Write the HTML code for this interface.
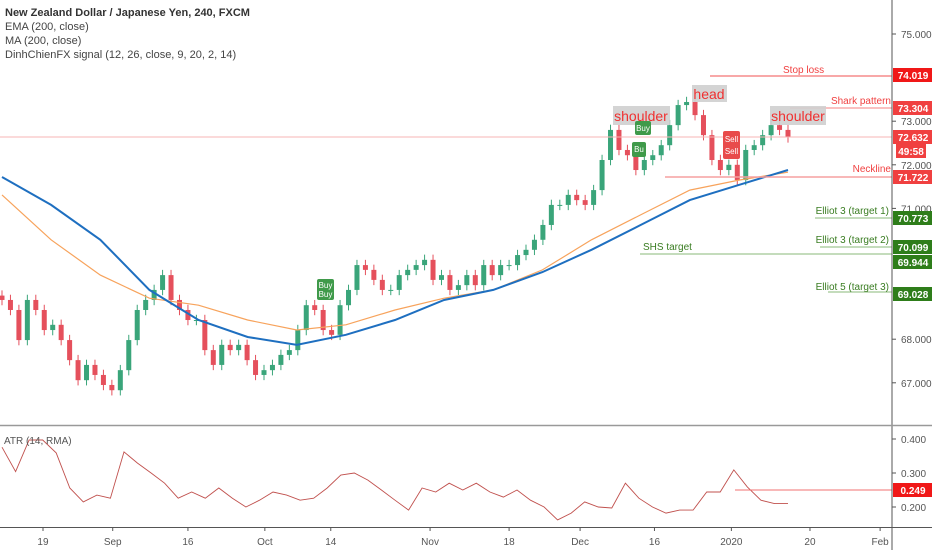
<!DOCTYPE html>
<html><head><meta charset="utf-8"><style>
html,body{margin:0;padding:0;background:#fff;}
svg{display:block;font-family:"Liberation Sans",sans-serif;}
</style></head><body>
<svg id="chart" width="932" height="550" viewBox="0 0 932 550" xmlns="http://www.w3.org/2000/svg">
<rect width="932" height="550" fill="#fff"/>
<g id="grid"></g>
<g id="marks"></g>
<g id="overlay"></g>
<g id="axes"></g>
</svg>
<script>
const closes=[68.90,68.67,67.98,68.90,68.67,68.21,68.33,67.98,67.52,67.06,67.41,67.18,66.95,66.83,67.29,67.98,68.67,68.90,69.13,69.47,68.90,68.67,68.44,68.44,67.75,67.41,67.87,67.75,67.87,67.52,67.18,67.29,67.41,67.64,67.75,68.21,68.78,68.67,68.21,68.10,68.78,69.13,69.70,69.59,69.36,69.13,69.13,69.47,69.59,69.70,69.82,69.36,69.47,69.13,69.24,69.47,69.24,69.70,69.47,69.70,69.70,69.93,70.05,70.28,70.62,71.08,71.08,71.31,71.19,71.08,71.42,72.11,72.80,72.34,72.22,71.88,72.11,72.22,72.45,72.91,73.37,73.44,73.14,72.68,72.11,71.88,72.00,71.65,72.34,72.45,72.68,72.91,72.80,72.63];
const maValues=[71.72,71.08,70.28,69.13,68.44,68.05,67.87,68.10,68.44,68.90,69.13,69.54,70.05,70.62,71.19,71.54,71.88];
const emaValues=[71.31,70.28,69.47,68.94,68.78,68.44,68.21,68.33,68.67,68.94,69.13,69.59,70.28,70.85,71.42,71.65,71.83];
const atrValues=[0.376,0.304,0.397,0.397,0.359,0.256,0.215,0.235,0.226,0.362,0.329,0.300,0.270,0.226,0.244,0.226,0.256,0.226,0.200,0.220,0.244,0.235,0.220,0.226,0.256,0.294,0.300,0.279,0.250,0.220,0.191,0.256,0.244,0.270,0.250,0.270,0.244,0.229,0.250,0.220,0.200,0.162,0.182,0.215,0.200,0.197,0.270,0.226,0.200,0.182,0.191,0.191,0.244,0.244,0.309,0.259,0.220,0.210,0.210];
const priceTicks=[75,73,72,71,68,67];
const atrTicks=[0.4,0.3,0.2];
const dateLabels=["19","Sep","16","Oct","14","Nov","18","Dec","16","2020","20","Feb"];
const dateIdx=[4.85,13.1,22.0,31.1,38.9,50.65,60.0,68.4,77.2,86.3,95.6,103.9];

const NS="http://www.w3.org/2000/svg";
const AX=892, X0=2, XEND=788;
const py=p=>34+(75-p)*43.6;
const ay=v=>439+(0.4-v)*340;
const cx=i=>X0+i*(XEND-X0)/(closes.length-1);
function el(tag,attrs,parent,text){const e=document.createElementNS(NS,tag);for(const k in attrs)e.setAttribute(k,attrs[k]);if(text!==undefined)e.textContent=text;parent.appendChild(e);return e;}
const grid=document.getElementById('grid'),marks=document.getElementById('marks'),ov=document.getElementById('overlay'),axes=document.getElementById('axes');

closes.forEach((c,i)=>{
  const o=i===0?c+0.1:closes[i-1];
  const up=c>=o, col=up?'#3aa57a':'#e5505c';
  const g=el('g',{},marks);
  
  
  const x=cx(i);
  el('line',{x1:x,x2:x,y1:py(Math.max(o,c)+0.12),y2:py(Math.min(o,c)-0.12),stroke:col,'stroke-width':1},g);
  const t=py(Math.max(o,c)),b=py(Math.min(o,c));
  el('rect',{x:x-2.5,y:t,width:5,height:Math.max(1,b-t),fill:col},g);
});
function line(vals,stroke,w,name){
  const n=vals.length;const pts=vals.map((v,i)=>(X0+i*(XEND-X0)/(n-1)).toFixed(1)+','+py(v).toFixed(1)).join(' ');
  const p=el('polyline',{points:pts,fill:'none',stroke:stroke,'stroke-width':w},marks);
  
  
}
line(emaValues,'#f7a35c',1.2,'ema-200-line');
line(maValues,'#1e6fc0',2,'ma-200-line');
{
  const n=atrValues.length;const pts=atrValues.map((v,i)=>(X0+i*(XEND-X0)/(n-1)).toFixed(1)+','+ay(v).toFixed(1)).join(' ');
  const p=el('polyline',{points:pts,fill:'none',stroke:'#c0504d','stroke-width':0.9},marks);
  
  
}
</script>
<script>
const O=document.getElementById('overlay');
O.innerHTML=`
<line x1="0" y1="137" x2="892" y2="137" stroke="#f7b5b5" stroke-width="1"/>
<line x1="710" y1="76" x2="892" y2="76" stroke="#f05050"/>
<text x="783" y="73" font-size="10" fill="#f04040">Stop loss</text>
<line x1="790" y1="108" x2="892" y2="108" stroke="#f58080"/>
<text x="891" y="104" font-size="10" fill="#f04040" text-anchor="end">Shark pattern</text>
<line x1="665" y1="177" x2="892" y2="177" stroke="#f5a0a0" stroke-width="1.5"/>
<text x="891" y="172" font-size="10" fill="#f04040" text-anchor="end">Neckline</text>
<line x1="815" y1="218" x2="892" y2="218" stroke="#8ab878"/>
<text x="889" y="214" font-size="10" fill="#3a7d22" text-anchor="end">Elliot 3 (target 1)</text>
<line x1="820" y1="247" x2="892" y2="247" stroke="#8ab878"/>
<text x="889" y="243" font-size="10" fill="#3a7d22" text-anchor="end">Elliot 3 (target 2)</text>
<line x1="640" y1="254" x2="892" y2="254" stroke="#8ab878"/>
<text x="643" y="250" font-size="10" fill="#3a7d22">SHS target</text>
<line x1="828" y1="292" x2="892" y2="292" stroke="#8ab878"/>
<text x="889" y="290" font-size="10" fill="#3a7d22" text-anchor="end">Elliot 5 (target 3)</text>
<line x1="735" y1="490" x2="892" y2="490" stroke="#f07070"/>
<g><rect x="613" y="106" width="57" height="19" fill="#cfcfcf" opacity="0.9"/><text x="641" y="121" font-size="14" fill="#f03030" text-anchor="middle">shoulder</text></g>
<g><rect x="692" y="85" width="35" height="17" fill="#cfcfcf" opacity="0.9"/><text x="709" y="99" font-size="14" fill="#f03030" text-anchor="middle">head</text></g>
<g><rect x="770" y="106" width="56" height="19" fill="#cfcfcf" opacity="0.9"/><text x="798" y="121" font-size="14" fill="#f03030" text-anchor="middle">shoulder</text></g>
<g><rect x="317" y="279" width="17" height="21" rx="2" fill="#3f9a4a"/><text x="325.5" y="288" font-size="8" fill="#fff" text-anchor="middle">Buy</text><text x="325.5" y="297" font-size="8" fill="#fff" text-anchor="middle">Buy</text></g>
<g><rect x="635" y="121" width="16" height="14" rx="2" fill="#3f9a4a"/><text x="643" y="131" font-size="8" fill="#fff" text-anchor="middle">Buy</text><rect x="632" y="142" width="14" height="15" rx="2" fill="#3f9a4a"/><text x="639" y="152" font-size="8" fill="#fff" text-anchor="middle">Bu</text></g>
<g><rect x="723" y="131" width="17" height="28" rx="2" fill="#e84b4b"/><text x="731.5" y="142" font-size="8" fill="#fff" text-anchor="middle">Sell</text><text x="731.5" y="154" font-size="8" fill="#fff" text-anchor="middle">Sell</text></g>
<text x="5" y="16" font-size="11" fill="#333" font-weight="bold">New Zealand Dollar / Japanese Yen, 240, FXCM</text>
<text x="5" y="30" font-size="11" fill="#444">EMA (200, close)</text>
<text x="5" y="44" font-size="11" fill="#444">MA (200, close)</text>
<text x="5" y="58" font-size="11" fill="#444">DinhChienFX signal (12, 26, close, 9, 20, 2, 14)</text>
<text x="4" y="444" font-size="10" fill="#555">ATR (14, RMA)</text>
`;
const A=document.getElementById('axes');
const mk=(tag,attrs,txt)=>{const e=document.createElementNS("http://www.w3.org/2000/svg",tag);for(const k in attrs)e.setAttribute(k,attrs[k]);if(txt!==undefined)e.textContent=txt;A.appendChild(e);return e;};
const ax=mk('line',{x1:892,y1:0,x2:892,y2:550,stroke:'#555','stroke-width':1});


const d1=mk('line',{x1:0,y1:425.5,x2:932,y2:425.5,stroke:'#999','stroke-width':1.5});


const d2=mk('line',{x1:0,y1:527.5,x2:932,y2:527.5,stroke:'#555','stroke-width':1});


priceTicks.forEach(p=>{
  const y=py(p);
  const tk=mk('line',{x1:892,x2:896,y1:y,y2:y,stroke:'#555'});
  
  
  const t=mk('text',{x:901,y:y+4,'font-size':10,fill:'#555'},p.toFixed(3));
  
  
});
atrTicks.forEach(v=>{
  const y=ay(v);
  const tk=mk('line',{x1:892,x2:896,y1:y,y2:y,stroke:'#555'});
  
  
  const t=mk('text',{x:901,y:y+4,'font-size':10,fill:'#555'},v.toFixed(3));
  
  
});
const stepX=(XEND-X0)/(closes.length-1);
dateLabels.forEach((d,i)=>{
  const x=X0+dateIdx[i]*stepX;
  const tk=mk('line',{x1:x,x2:x,y1:527,y2:531,stroke:'#555'});
  
  
  const t=mk('text',{x:x,y:545,'font-size':10,fill:'#555','text-anchor':'middle'},d);
  
  
});
const badges=[["74.019",75,"#f01818"],["73.304",108,"#f04040"],["72.632",137,"#f04040"],["49:58",151,"#f04040"],["71.722",177,"#f04040"],["70.773",218,"#2e7d1a"],["70.099",247,"#2e7d1a"],["69.944",262,"#2e7d1a"],["69.028",294,"#2e7d1a"],["0.249",490,"#f01818"]];
badges.forEach(b=>{
  const w=b[0]==="49:58"?30:40, x=b[0]==="49:58"?896:893;
  const g=document.createElementNS("http://www.w3.org/2000/svg",'g');A.appendChild(g);
  
  
  const r=document.createElementNS("http://www.w3.org/2000/svg",'rect');
  r.setAttribute('x',x);r.setAttribute('y',b[1]-7);r.setAttribute('width',w);r.setAttribute('height',14);r.setAttribute('fill',b[2]);g.appendChild(r);
  const t=document.createElementNS("http://www.w3.org/2000/svg",'text');
  t.setAttribute('x',x+w/2);t.setAttribute('y',b[1]+4);t.setAttribute('font-size',10);t.setAttribute('fill','#fff');t.setAttribute('text-anchor','middle');t.setAttribute('font-weight','bold');t.textContent=b[0];g.appendChild(t);
});
</script>
</body></html>
